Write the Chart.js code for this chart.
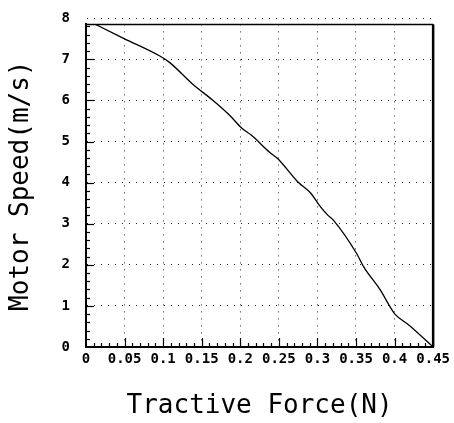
<!DOCTYPE html>
<html>
<head>
<meta charset="utf-8">
<title>Motor Speed vs Tractive Force</title>
<script src="https://cdn.jsdelivr.net/npm/chart.js@4.4.1/dist/chart.umd.min.js"></script>
<style>
  html, body { margin: 0; padding: 0; background: #fff; }
  canvas { display: block; }
</style>
</head>
<body>
<canvas id="speedChart" width="454" height="423"></canvas>
<script>
// curve
const forceN = [0, 0.0145, 0.0487, 0.0957, 0.1086, 0.138, 0.164, 0.1855, 0.2017, 0.2145,
  0.238, 0.2487, 0.2744, 0.2914, 0.302, 0.3128, 0.3214, 0.351, 0.36, 0.381,
  0.396, 0.4004, 0.4196, 0.45];
const speedMs = [7.97, 7.83, 7.51, 7.08, 6.92, 6.40, 6.01, 5.65, 5.33, 5.15,
  4.74, 4.58, 4.02, 3.74, 3.46, 3.22, 3.07, 2.27, 1.95, 1.40,
  0.92, 0.80, 0.52, 0];

// axes
const xTickLabels = ['0', '0.05', '0.1', '0.15', '0.2', '0.25', '0.3', '0.35', '0.4', '0.45'];
const yTickLabels = ['0', '1', '2', '3', '4', '5', '6', '7', '8'];
const xMin = 0, xMax = 0.45, xStep = 0.05, xMinorStep = 0.01;
const yMin = 0, yMax = 7.85, yStep = 1, yMinorStep = 0.2, yTopLabel = 8;

const monoFont = 'DejaVu Sans Mono';

// inward ticks + top/right frame
const frameAndTicks = {
  id: 'frameAndTicks',
  afterDraw(chart) {
    const { ctx, chartArea: a, scales: { x, y } } = chart;
    ctx.save();
    ctx.strokeStyle = '#000';

    ctx.lineWidth = 1.5;
    ctx.beginPath();
    ctx.moveTo(a.left, a.top);
    ctx.lineTo(a.right, a.top);
    ctx.stroke();

    ctx.lineWidth = 2.5;
    ctx.beginPath();
    ctx.moveTo(a.right, a.top);
    ctx.lineTo(a.right, a.bottom);
    ctx.stroke();

    ctx.lineWidth = 1.2;
    const nx = Math.round((xMax - xMin) / xMinorStep);
    for (let i = 1; i < nx; i++) {
      const px = Math.round(x.getPixelForValue(xMin + i * xMinorStep)) + 0.5;
      const len = i % 5 === 0 ? 9 : 4;
      ctx.beginPath();
      ctx.moveTo(px, a.bottom);
      ctx.lineTo(px, a.bottom - len);
      ctx.stroke();
    }
    const ny = Math.floor((yMax - yMin) / yMinorStep + 1e-6);
    for (let i = 1; i <= ny; i++) {
      const py = Math.round(y.getPixelForValue(yMin + i * yMinorStep)) + 0.5;
      const len = i % 5 === 0 ? 8 : 4;
      ctx.beginPath();
      ctx.moveTo(a.left, py);
      ctx.lineTo(a.left + len, py);
      ctx.stroke();
    }
    ctx.restore();
  }
};

const ctx = document.getElementById('speedChart').getContext('2d');
new Chart(ctx, {
  type: 'scatter',
  data: {
    datasets: [{
      label: 'Motor Speed',
      data: forceN.map((f, i) => ({ x: f, y: speedMs[i] })),
      showLine: true,
      borderColor: '#000',
      borderWidth: 1.3,
      pointRadius: 0,
      cubicInterpolationMode: 'monotone'
    }]
  },
  options: {
    responsive: false,
    animation: false,
    layout: { padding: { top: 18, right: 17, left: 0, bottom: 0 } },
    plugins: { legend: { display: false }, tooltip: { enabled: false } },
    scales: {
      x: {
        type: 'linear',
        min: xMin,
        max: xMax,
        afterFit: s => { s.height = 76; },
        ticks: {
          stepSize: xStep,
          autoSkip: false,
          maxRotation: 0,
          padding: 4,
          color: '#000',
          font: { family: monoFont, size: 14, weight: 'bold' },
          callback: (v, i) => xTickLabels[i]
        },
        grid: { color: '#222', lineWidth: 1, drawTicks: false },
        border: { display: true, color: '#000', width: 2, dash: [1, 6] },
        title: {
          display: true,
          text: 'Tractive Force(N)',
          color: '#000',
          font: { family: monoFont, size: 26, weight: 'normal', lineHeight: 1 },
          padding: { top: 0, bottom: 4 }
        }
      },
      y: {
        type: 'linear',
        min: yMin,
        max: yMax,
        afterFit: s => { s.width = 86; },
        afterBuildTicks: s => { s.ticks.push({ value: yTopLabel }); },
        ticks: {
          stepSize: yStep,
          includeBounds: false,
          autoSkip: false,
          padding: 16,
          color: '#000',
          font: { family: monoFont, size: 14, weight: 'bold' },
          callback: (v, i) => yTickLabels[Math.round(v)]
        },
        grid: { color: '#222', lineWidth: 1, drawTicks: false },
        border: { display: true, color: '#000', width: 2, dash: [1, 6] },
        title: {
          display: true,
          text: 'Motor Speed(m/s)',
          color: '#000',
          font: { family: monoFont, size: 26, weight: 'normal', lineHeight: 1 },
          padding: { top: 8, bottom: 0 }
        }
      }
    }
  },
  plugins: [frameAndTicks]
});
</script>
</body>
</html>
